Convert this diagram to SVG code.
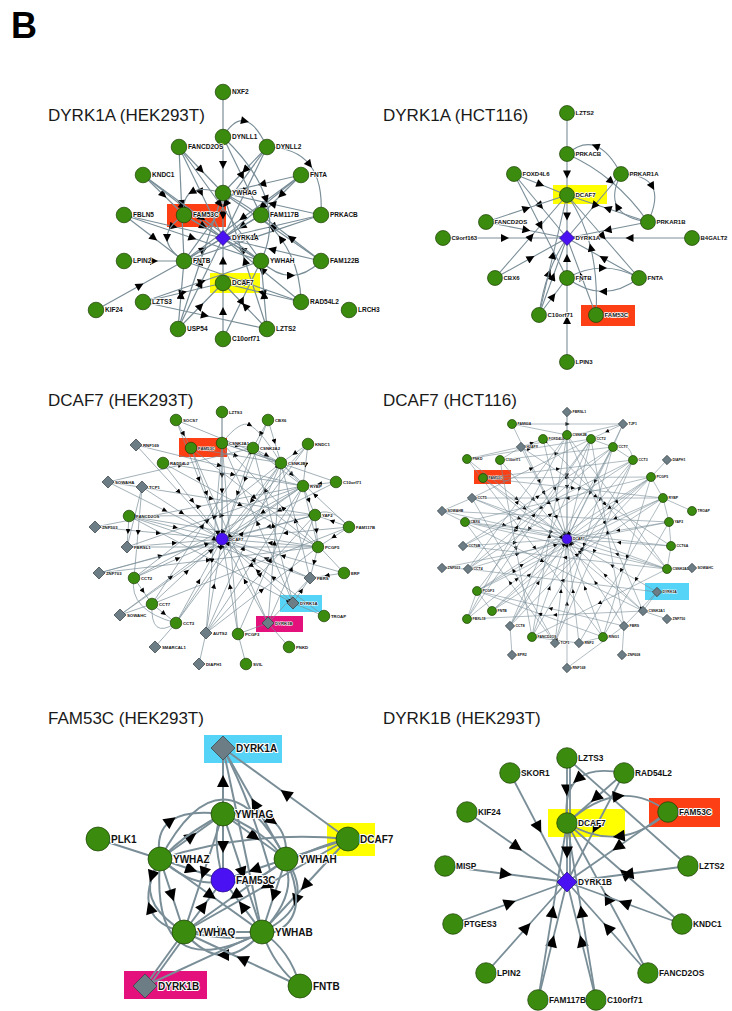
<svg xmlns="http://www.w3.org/2000/svg" xmlns:xlink="http://www.w3.org/1999/xlink" width="732" height="1011" viewBox="0 0 732 1011">
<style>
.t{font-family:"Liberation Sans",Arial,sans-serif;font-size:17px;fill:#1a1a1a}
.B{font-family:"Liberation Sans",Arial,sans-serif;font-size:36px;font-weight:bold;fill:#000}
.g{fill:#3a8b0e;stroke:#1d3f05;stroke-width:.7}
.v{fill:#4a12f2;stroke:#220a80;stroke-width:.7}
.d{fill:#6c7d86;stroke:#333d42;stroke-width:.7}
.l{font-family:"Liberation Sans",Arial,sans-serif;font-weight:bold;fill:#111;stroke:#fff;stroke-linejoin:round;paint-order:stroke}
.l1{font-size:6.5px;stroke-width:1.6}
.l2{font-size:6px;stroke-width:1.5}
.l3{font-size:4.3px;stroke-width:1}
.l4{font-size:3.5px;stroke-width:.8}
.l5{font-size:10px;stroke-width:2.2}
.l6{font-size:8.3px;stroke-width:2}
.e{fill:none;stroke:#7a8e98}
.e1{stroke-width:1.2;marker-mid:url(#a1)}
.e2{stroke-width:1.1;marker-mid:url(#a2)}
.e3{stroke-width:.7;marker-mid:url(#a3)}
.e4{stroke-width:.6;marker-mid:url(#a4)}
.e5{stroke-width:2;marker-mid:url(#a5)}
.e6{stroke-width:1.8;marker-mid:url(#a6)}
.hr{fill:#fc3f14}.hy{fill:#ffff00}.hb{fill:#55d4f7}.hm{fill:#e4107c}
</style>
<defs>
<marker id="a1" viewBox="0 0 10 10" refX="5" refY="5" markerWidth="9" markerHeight="8" markerUnits="userSpaceOnUse" orient="auto"><path d="M0,0L10,5L0,10z"/></marker>
<marker id="a2" viewBox="0 0 10 10" refX="5" refY="5" markerWidth="9" markerHeight="8" markerUnits="userSpaceOnUse" orient="auto"><path d="M0,0L10,5L0,10z"/></marker>
<marker id="a3" viewBox="0 0 10 10" refX="5" refY="5" markerWidth="5.5" markerHeight="5" markerUnits="userSpaceOnUse" orient="auto"><path d="M0,0L10,5L0,10z"/></marker>
<marker id="a4" viewBox="0 0 10 10" refX="5" refY="5" markerWidth="4.5" markerHeight="4" markerUnits="userSpaceOnUse" orient="auto"><path d="M0,0L10,5L0,10z"/></marker>
<marker id="a5" viewBox="0 0 10 10" refX="5" refY="5" markerWidth="13" markerHeight="12" markerUnits="userSpaceOnUse" orient="auto"><path d="M0,0L10,5L0,10z"/></marker>
<marker id="a6" viewBox="0 0 10 10" refX="5" refY="5" markerWidth="13" markerHeight="12" markerUnits="userSpaceOnUse" orient="auto"><path d="M0,0L10,5L0,10z"/></marker>
<path id="d1" d="M0,-7.5L7.5,0L0,7.5L-7.5,0Z"/>
<path id="d3" d="M0,-6L6,0L0,6L-6,0Z"/>
<path id="d4" d="M0,-4.7L4.7,0L0,4.7L-4.7,0Z"/>
<path id="d5" d="M0,-12L12,0L0,12L-12,0Z"/>
<path id="d6" d="M0,-10L10,0L0,10L-10,0Z"/>
</defs>
<rect width="732" height="1011" fill="#fff"/>
<text class="B" x="11" y="38">B</text>
<text class="t" x="48" y="121">DYRK1A (HEK293T)</text>
<text class="t" x="383" y="121">DYRK1A (HCT116)</text>
<text class="t" x="48" y="406">DCAF7 (HEK293T)</text>
<text class="t" x="383" y="406">DCAF7 (HCT116)</text>
<text class="t" x="48" y="724">FAM53C (HEK293T)</text>
<text class="t" x="383" y="724">DYRK1B (HEK293T)</text>

<!-- ===== Panel 1 ===== -->
<g id="p1-highlights">
<rect class="hr" x="167" y="204" width="59" height="23"/>
<rect class="hy" x="210" y="273" width="50" height="20"/>
</g>
<g id="p1-edges" class="e e1">
<line x1="223" y1="92" x2="223" y2="137"/>
<polyline points="223,137 223,165 223,193"/>
<polyline points="267,147 245,170 223,193"/>
<path d="M223,137 Q234,118.5 245,121 Q256,123.5 267,147"/>
<polyline points="179,147 201,192.5 223,238"/>
<polyline points="179,147 181.5,204 184,261"/>
<polyline points="143,175 163.5,195 184,215"/>
<polyline points="143,175 183,206.5 223,238"/>
<polyline points="301,175 262,184 223,193"/>
<polyline points="301,175 242.5,218 184,261"/>
<polyline points="301,175 262,206.5 223,238"/>
<polyline points="223,193 223,215.5 223,238"/>
<polyline points="124,215 173.5,226.5 223,238"/>
<polyline points="124,215 192.5,238 261,261"/>
<polyline points="184,215 203.5,226.5 223,238"/>
<polyline points="261,215 242,226.5 223,238"/>
<polyline points="321,215 272,226.5 223,238"/>
<polyline points="321,215 252.5,238 184,261"/>
<path d="M267,147 Q296,147.5 309.5,164.5 Q323,181.5 321,215"/>
<polyline points="124,261 154,261 184,261"/>
<polyline points="184,261 203.5,249.5 223,238"/>
<polyline points="261,261 242,249.5 223,238"/>
<polyline points="321,261 272,249.5 223,238"/>
<polyline points="321,261 272,227 223,193"/>
<polyline points="223,283 223,260.5 223,238"/>
<polyline points="143,302 183,292.5 223,283"/>
<polyline points="143,302 202,281.5 261,261"/>
<polyline points="301,302 262,270 223,238"/>
<polyline points="301,302 262,292.5 223,283"/>
<polyline points="301,302 242.5,281.5 184,261"/>
<polyline points="96,310 140,285.5 184,261"/>
<polyline points="178,329 200.5,283.5 223,238"/>
<polyline points="178,329 181,295 184,261"/>
<polyline points="178,329 200.5,261 223,193"/>
<polyline points="267,329 245,306 223,283"/>
<polyline points="267,329 245,261 223,193"/>
<polyline points="223,339 223,311 223,283"/>
<polyline points="223,339 242,300 261,261"/>
<polyline points="143,302 205,315.5 267,329"/>
<polyline points="261,261 222.5,238 184,215"/>
<polyline points="261,215 222.5,238 184,261"/>
<polyline points="179,147 220,204 261,261"/>
<polyline points="223,137 242,176 261,215"/>
<polyline points="267,147 225.5,204 184,261"/>
<path d="M184,215 Q167,226.5 167,238 Q167,249.5 184,261"/>
<path d="M223,193 Q201.5,186.5 191.75,192 Q182,197.5 184,215"/>
<path d="M261,261 Q276,275.5 291,275.5 Q306,275.5 321,261"/>
<path d="M223,137 Q256.5,168.5 266,199.5 Q275.5,230.5 261,261"/>
<polyline points="179,147 201,170 223,193"/>
<polyline points="267,147 245,192.5 223,238"/>
<polyline points="301,175 281,195 261,215"/>
<polyline points="321,215 272,204 223,193"/>
<polyline points="321,261 291,238 261,215"/>
<path d="M301,302 Q300.5,266 281,238.75 Q261.5,211.5 223,193"/>
<polyline points="267,329 264,295 261,261"/>
<polyline points="178,329 200.5,306 223,283"/>
<polyline points="143,175 202,218 261,261"/>
<polyline points="124,215 154,238 184,261"/>
</g>
<g id="p1-NXF2"><circle class="g" cx="223" cy="92" r="7.8"/><text class="l l1" x="232" y="94.3">NXF2</text></g>
<g id="p1-DYNLL1"><circle class="g" cx="223" cy="137" r="7.8"/><text class="l l1" x="232" y="139.3">DYNLL1</text></g>
<g id="p1-FANCD2OS"><circle class="g" cx="179" cy="147" r="7.8"/><text class="l l1" x="188" y="149.3">FANCD2OS</text></g>
<g id="p1-DYNLL2"><circle class="g" cx="267" cy="147" r="7.8"/><text class="l l1" x="276" y="149.3">DYNLL2</text></g>
<g id="p1-KNDC1"><circle class="g" cx="143" cy="175" r="7.8"/><text class="l l1" x="152" y="177.3">KNDC1</text></g>
<g id="p1-FNTA"><circle class="g" cx="301" cy="175" r="7.8"/><text class="l l1" x="310" y="177.3">FNTA</text></g>
<g id="p1-YWHAG"><circle class="g" cx="223" cy="193" r="7.8"/><text class="l l1" x="232" y="195.3">YWHAG</text></g>
<g id="p1-FBLN5"><circle class="g" cx="124" cy="215" r="7.8"/><text class="l l1" x="133" y="217.3">FBLN5</text></g>
<g id="p1-FAM53C"><circle class="g" cx="184" cy="215" r="7.8"/><text class="l l1" x="193" y="217.3">FAM53C</text></g>
<g id="p1-FAM117B"><circle class="g" cx="261" cy="215" r="7.8"/><text class="l l1" x="270" y="217.3">FAM117B</text></g>
<g id="p1-PRKACB"><circle class="g" cx="321" cy="215" r="7.8"/><text class="l l1" x="330" y="217.3">PRKACB</text></g>
<g id="p1-DYRK1A"><use href="#d1" x="223" y="238" class="v"/><text class="l l1" x="232" y="240.3">DYRK1A</text></g>
<g id="p1-LPIN2"><circle class="g" cx="124" cy="261" r="7.8"/><text class="l l1" x="133" y="263.3">LPIN2</text></g>
<g id="p1-FNTB"><circle class="g" cx="184" cy="261" r="7.8"/><text class="l l1" x="193" y="263.3">FNTB</text></g>
<g id="p1-YWHAH"><circle class="g" cx="261" cy="261" r="7.8"/><text class="l l1" x="270" y="263.3">YWHAH</text></g>
<g id="p1-FAM122B"><circle class="g" cx="321" cy="261" r="7.8"/><text class="l l1" x="330" y="263.3">FAM122B</text></g>
<g id="p1-DCAF7"><circle class="g" cx="223" cy="283" r="7.8"/><text class="l l1" x="232" y="285.3">DCAF7</text></g>
<g id="p1-LZTS3"><circle class="g" cx="143" cy="302" r="7.8"/><text class="l l1" x="152" y="304.3">LZTS3</text></g>
<g id="p1-RAD54L2"><circle class="g" cx="301" cy="302" r="7.8"/><text class="l l1" x="310" y="304.3">RAD54L2</text></g>
<g id="p1-KIF24"><circle class="g" cx="96" cy="310" r="7.8"/><text class="l l1" x="105" y="312.3">KIF24</text></g>
<g id="p1-LRCH3"><circle class="g" cx="349" cy="310" r="7.8"/><text class="l l1" x="358" y="312.3">LRCH3</text></g>
<g id="p1-USP54"><circle class="g" cx="178" cy="329" r="7.8"/><text class="l l1" x="187" y="331.3">USP54</text></g>
<g id="p1-LZTS2"><circle class="g" cx="267" cy="329" r="7.8"/><text class="l l1" x="276" y="331.3">LZTS2</text></g>
<g id="p1-C10orf71"><circle class="g" cx="223" cy="339" r="7.8"/><text class="l l1" x="232" y="341.3">C10orf71</text></g>

<!-- ===== Panel 2 ===== -->
<g id="p2-highlights">
<rect class="hy" x="553" y="185" width="54" height="19"/>
<rect class="hr" x="581" y="305" width="54" height="21"/>
</g>
<g id="p2-edges" class="e e2">
<line x1="567" y1="113" x2="567" y2="154"/>
<polyline points="567,154 567,174.5 567,195"/>
<path d="M621,174 Q609,151 595.5,146 Q582,141 567,154"/>
<path d="M567,154 Q591,164.5 611.25,181.5 Q631.5,198.5 648,222"/>
<polyline points="648,222 607.5,208.5 567,195"/>
<path d="M621,174 Q645.5,174.5 652.25,186.5 Q659,198.5 648,222"/>
<path d="M648,222 Q624,218.5 617.25,206.5 Q610.5,194.5 621,174"/>
<polyline points="621,174 594,206 567,238"/>
<polyline points="514,174 540.5,184.5 567,195"/>
<polyline points="514,174 540.5,206 567,238"/>
<polyline points="567,195 567,216.5 567,238"/>
<polyline points="486,222 526.5,208.5 567,195"/>
<polyline points="486,222 526.5,230 567,238"/>
<polyline points="443,238 505,238 567,238"/>
<polyline points="692,238 629.5,238 567,238"/>
<polyline points="648,222 607.5,230 567,238"/>
<polyline points="495,278 531,236.5 567,195"/>
<polyline points="495,278 531,258 567,238"/>
<polyline points="567,278 567,258 567,238"/>
<polyline points="639,278 603,258 567,238"/>
<path d="M639,278 Q621,291.5 603,291.5 Q585,291.5 567,278"/>
<path d="M567,278 Q585,268 603,268 Q621,268 639,278"/>
<path d="M539,315 Q542,292.5 549,273.25 Q556,254 567,238"/>
<polyline points="539,315 553,255 567,195"/>
<polyline points="539,315 553,296.5 567,278"/>
<polyline points="596,315 581.5,276.5 567,238"/>
<path d="M596,315 Q598,277.5 590.75,247.5 Q583.5,217.5 567,195"/>
<polyline points="567,362 567,320 567,278"/>
<polyline points="567,195 603,236.5 639,278"/>
<polyline points="514,174 540.5,226 567,278"/>
<polyline points="539,315 553,276.5 567,238"/>
</g>
<g id="p2-LZTS2"><circle class="g" cx="567" cy="113" r="7.5"/><text class="l l2" x="575.5" y="115">LZTS2</text></g>
<g id="p2-PRKACB"><circle class="g" cx="567" cy="154" r="7.5"/><text class="l l2" x="575.5" y="156">PRKACB</text></g>
<g id="p2-FOXD4L6"><circle class="g" cx="514" cy="174" r="7.5"/><text class="l l2" x="522.5" y="176">FOXD4L6</text></g>
<g id="p2-PRKAR1A"><circle class="g" cx="621" cy="174" r="7.5"/><text class="l l2" x="629.5" y="176">PRKAR1A</text></g>
<g id="p2-DCAF7"><circle class="g" cx="567" cy="195" r="7.5"/><text class="l l2" x="575.5" y="197">DCAF7</text></g>
<g id="p2-FANCD2OS"><circle class="g" cx="486" cy="222" r="7.5"/><text class="l l2" x="494.5" y="224">FANCD2OS</text></g>
<g id="p2-PRKAR1B"><circle class="g" cx="648" cy="222" r="7.5"/><text class="l l2" x="656.5" y="224">PRKAR1B</text></g>
<g id="p2-C9orf163"><circle class="g" cx="443" cy="238" r="7.5"/><text class="l l2" x="451.5" y="240">C9orf163</text></g>
<g id="p2-DYRK1A"><use href="#d1" x="567" y="238" class="v"/><text class="l l2" x="575.5" y="240">DYRK1A</text></g>
<g id="p2-B4GALT2"><circle class="g" cx="692" cy="238" r="7.5"/><text class="l l2" x="700.5" y="240">B4GALT2</text></g>
<g id="p2-CBX6"><circle class="g" cx="495" cy="278" r="7.5"/><text class="l l2" x="503.5" y="280">CBX6</text></g>
<g id="p2-FNTB"><circle class="g" cx="567" cy="278" r="7.5"/><text class="l l2" x="575.5" y="280">FNTB</text></g>
<g id="p2-FNTA"><circle class="g" cx="639" cy="278" r="7.5"/><text class="l l2" x="647.5" y="280">FNTA</text></g>
<g id="p2-C10orf71"><circle class="g" cx="539" cy="315" r="7.5"/><text class="l l2" x="547.5" y="317">C10orf71</text></g>
<g id="p2-FAM53C"><circle class="g" cx="596" cy="315" r="7.5"/><text class="l l2" x="604.5" y="317">FAM53C</text></g>
<g id="p2-LPIN3"><circle class="g" cx="567" cy="362" r="7.5"/><text class="l l2" x="575.5" y="364">LPIN3</text></g>

<!-- ===== Panel 3 ===== -->
<g id="p3-highlights">
<rect class="hr" x="179" y="438" width="48" height="19"/>
<rect class="hb" x="280" y="595" width="42" height="17"/>
<rect class="hm" x="256" y="616" width="47" height="16"/>
</g>
<g id="p3-edges" class="e e3">
<polyline points="176,420 199,479.5 222,539"/>
<polyline points="222,412 222,475.5 222,539"/>
<polyline points="191,448 206.5,493.5 222,539"/>
<polyline points="222,443 222,491 222,539"/>
<polyline points="136,445 179,492 222,539"/>
<polyline points="163,463 192.5,501 222,539"/>
<polyline points="108,482 165,510.5 222,539"/>
<polyline points="142,487 182,513 222,539"/>
<polyline points="129,516 175.5,527.5 222,539"/>
<polyline points="95,527 158.5,533 222,539"/>
<polyline points="127,547 174.5,543 222,539"/>
<polyline points="99,573 160.5,556 222,539"/>
<polyline points="134,578 178,558.5 222,539"/>
<polyline points="152,604 187,571.5 222,539"/>
<polyline points="120,615 171,577 222,539"/>
<polyline points="176,623 199,581 222,539"/>
<polyline points="206,633 214,586 222,539"/>
<polyline points="238,634 230,586.5 222,539"/>
<polyline points="268,623 245,581 222,539"/>
<polyline points="324,616 273,577.5 222,539"/>
<polyline points="293,603 257.5,571 222,539"/>
<polyline points="310,578 266,558.5 222,539"/>
<polyline points="344,573 283,556 222,539"/>
<polyline points="318,547 270,543 222,539"/>
<polyline points="349,527 285.5,533 222,539"/>
<polyline points="315,515 268.5,527 222,539"/>
<polyline points="336,482 279,510.5 222,539"/>
<polyline points="303,486 262.5,512.5 222,539"/>
<polyline points="281,463 251.5,501 222,539"/>
<polyline points="308,444 265,491.5 222,539"/>
<polyline points="253,448 237.5,493.5 222,539"/>
<polyline points="268,420 245,479.5 222,539"/>
<polyline points="222,443 237.5,445.5 253,448"/>
<polyline points="222,443 251.5,453 281,463"/>
<polyline points="253,448 267,455.5 281,463"/>
<polyline points="281,463 292,474.5 303,486"/>
<polyline points="253,448 278,467 303,486"/>
<polyline points="268,420 260.5,434 253,448"/>
<polyline points="268,420 274.5,441.5 281,463"/>
<polyline points="308,444 294.5,453.5 281,463"/>
<polyline points="308,444 305.5,465 303,486"/>
<polyline points="303,486 309,500.5 315,515"/>
<polyline points="303,486 310.5,516.5 318,547"/>
<polyline points="315,515 316.5,531 318,547"/>
<polyline points="318,547 314,562.5 310,578"/>
<polyline points="336,482 319.5,484 303,486"/>
<polyline points="349,527 332,521 315,515"/>
<polyline points="349,527 333.5,537 318,547"/>
<polyline points="344,573 327,575.5 310,578"/>
<line x1="293" y1="603" x2="324" y2="616"/>
<polyline points="293,603 301.5,590.5 310,578"/>
<line x1="268" y1="623" x2="289" y2="647"/>
<line x1="268" y1="623" x2="238" y2="634"/>
<polyline points="268,623 289,600.5 310,578"/>
<polyline points="268,623 291.5,569 315,515"/>
<line x1="238" y1="634" x2="246" y2="664"/>
<line x1="206" y1="633" x2="199" y2="664"/>
<polyline points="206,633 262,590 318,547"/>
<polyline points="206,633 254.5,559.5 303,486"/>
<polyline points="206,633 260.5,574 315,515"/>
<polyline points="206,633 243.5,548 281,463"/>
<polyline points="206,633 214,538 222,443"/>
<polyline points="134,578 143,591 152,604"/>
<polyline points="152,604 164,613.5 176,623"/>
<path d="M134,578 Q128,610 176,623"/>
<path d="M152,604 Q150,640 176,623"/>
<line x1="176" y1="623" x2="155" y2="647"/>
<line x1="152" y1="604" x2="120" y2="615"/>
<polyline points="142,487 134.5,517 127,547"/>
<polyline points="142,487 138,532.5 134,578"/>
<polyline points="129,516 128,531.5 127,547"/>
<polyline points="95,527 199,506.5 303,486"/>
<polyline points="129,516 222,515.5 315,515"/>
<polyline points="129,516 223.5,531.5 318,547"/>
<polyline points="163,463 240.5,505 318,547"/>
<polyline points="163,463 233,474.5 303,486"/>
<polyline points="191,448 236,455.5 281,463"/>
<polyline points="191,448 254.5,497.5 318,547"/>
<polyline points="176,420 183.5,434 191,448"/>
<line x1="176" y1="420" x2="281" y2="463"/>
<line x1="222" y1="412" x2="222" y2="443"/>
<path d="M222,443 Q240,420 250,425 Q262,432 281,463"/>
<polyline points="136,445 219.5,465.5 303,486"/>
<polyline points="108,482 180.5,465 253,448"/>
<polyline points="108,482 211.5,498.5 315,515"/>
<polyline points="127,547 215,516.5 303,486"/>
<polyline points="127,547 222.5,547 318,547"/>
<polyline points="99,573 208.5,560 318,547"/>
<polyline points="99,573 207,544 315,515"/>
<polyline points="134,578 218.5,532 303,486"/>
<polyline points="134,578 207.5,520.5 281,463"/>
<polyline points="152,604 202.5,526 253,448"/>
<polyline points="176,623 228.5,543 281,463"/>
<polyline points="176,623 242,533.5 308,444"/>
<polyline points="120,615 211.5,550.5 303,486"/>
<polyline points="238,634 230,538.5 222,443"/>
<polyline points="238,634 270.5,560 303,486"/>
<polyline points="293,603 257.5,523 222,443"/>
<polyline points="293,603 273,525.5 253,448"/>
<polyline points="293,603 211,559.5 129,516"/>
<polyline points="268,623 274.5,543 281,463"/>
<polyline points="268,623 229.5,535.5 191,448"/>
<polyline points="310,578 295.5,520.5 281,463"/>
<polyline points="310,578 219.5,547 129,516"/>
<polyline points="344,573 283,508 222,443"/>
<polyline points="336,482 279,462.5 222,443"/>
<polyline points="349,527 315,495 281,463"/>
<polyline points="349,527 250.5,565.5 152,604"/>
<path d="M349,527 Q330,505 315,515"/>
</g>
<g id="p3-SOCS7"><circle class="g" cx="176" cy="420" r="5.8"/><text class="l l3" x="183" y="421.5">SOCS7</text></g>
<g id="p3-LZTS3"><circle class="g" cx="222" cy="412" r="5.8"/><text class="l l3" x="229" y="413.5">LZTS3</text></g>
<g id="p3-FAM53C"><circle class="g" cx="191" cy="448" r="5.8"/><text class="l l3" x="198" y="449.5">FAM53C</text></g>
<g id="p3-CSNK2A1"><circle class="g" cx="222" cy="443" r="5.8"/><text class="l l3" x="229" y="444.5">CSNK2A1</text></g>
<g id="p3-RNF169"><use href="#d3" x="136" y="445" class="d"/><text class="l l3" x="143" y="446.5">RNF169</text></g>
<g id="p3-RAD54L2"><circle class="g" cx="163" cy="463" r="5.8"/><text class="l l3" x="170" y="464.5">RAD54L2</text></g>
<g id="p3-SOWAHA"><use href="#d3" x="108" y="482" class="d"/><text class="l l3" x="115" y="483.5">SOWAHA</text></g>
<g id="p3-TCP1"><use href="#d3" x="142" y="487" class="d"/><text class="l l3" x="149" y="488.5">TCP1</text></g>
<g id="p3-FANCD2OS"><circle class="g" cx="129" cy="516" r="5.8"/><text class="l l3" x="136" y="517.5">FANCD2OS</text></g>
<g id="p3-ZNF503"><use href="#d3" x="95" y="527" class="d"/><text class="l l3" x="102" y="528.5">ZNF503</text></g>
<g id="p3-FBRSL1"><use href="#d3" x="127" y="547" class="d"/><text class="l l3" x="134" y="548.5">FBRSL1</text></g>
<g id="p3-ZNF703"><use href="#d3" x="99" y="573" class="d"/><text class="l l3" x="106" y="574.5">ZNF703</text></g>
<g id="p3-CCT2"><circle class="g" cx="134" cy="578" r="5.8"/><text class="l l3" x="141" y="579.5">CCT2</text></g>
<g id="p3-CCT7"><circle class="g" cx="152" cy="604" r="5.8"/><text class="l l3" x="159" y="605.5">CCT7</text></g>
<g id="p3-SOWAHC"><use href="#d3" x="120" y="615" class="d"/><text class="l l3" x="127" y="616.5">SOWAHC</text></g>
<g id="p3-CCT3"><circle class="g" cx="176" cy="623" r="5.8"/><text class="l l3" x="183" y="624.5">CCT3</text></g>
<g id="p3-AUTS2"><use href="#d3" x="206" y="633" class="d"/><text class="l l3" x="213" y="634.5">AUTS2</text></g>
<g id="p3-SMARCAL1"><use href="#d3" x="155" y="647" class="d"/><text class="l l3" x="162" y="648.5">SMARCAL1</text></g>
<g id="p3-DIAPH1"><use href="#d3" x="199" y="664" class="d"/><text class="l l3" x="206" y="665.5">DIAPH1</text></g>
<g id="p3-SVIL"><circle class="g" cx="246" cy="664" r="5.8"/><text class="l l3" x="253" y="665.5">SVIL</text></g>
<g id="p3-PCGF3"><circle class="g" cx="238" cy="634" r="5.8"/><text class="l l3" x="245" y="635.5">PCGF3</text></g>
<g id="p3-PNKD"><circle class="g" cx="289" cy="647" r="5.8"/><text class="l l3" x="296" y="648.5">PNKD</text></g>
<g id="p3-DYRK1B"><use href="#d3" x="268" y="623" class="d"/><text class="l l3" x="275" y="624.5">DYRK1B</text></g>
<g id="p3-TROAP"><circle class="g" cx="324" cy="616" r="5.8"/><text class="l l3" x="331" y="617.5">TROAP</text></g>
<g id="p3-DYRK1A"><use href="#d3" x="293" y="603" class="d"/><text class="l l3" x="300" y="604.5">DYRK1A</text></g>
<g id="p3-FBRS"><use href="#d3" x="310" y="578" class="d"/><text class="l l3" x="317" y="579.5">FBRS</text></g>
<g id="p3-ERF"><circle class="g" cx="344" cy="573" r="5.8"/><text class="l l3" x="351" y="574.5">ERF</text></g>
<g id="p3-PCGF5"><circle class="g" cx="318" cy="547" r="5.8"/><text class="l l3" x="325" y="548.5">PCGF5</text></g>
<g id="p3-FAM117B"><circle class="g" cx="349" cy="527" r="5.8"/><text class="l l3" x="356" y="528.5">FAM117B</text></g>
<g id="p3-YAF2"><circle class="g" cx="315" cy="515" r="5.8"/><text class="l l3" x="322" y="516.5">YAF2</text></g>
<g id="p3-C10orf71"><circle class="g" cx="336" cy="482" r="5.8"/><text class="l l3" x="343" y="483.5">C10orf71</text></g>
<g id="p3-RYBP"><circle class="g" cx="303" cy="486" r="5.8"/><text class="l l3" x="310" y="487.5">RYBP</text></g>
<g id="p3-CSNK2B"><circle class="g" cx="281" cy="463" r="5.8"/><text class="l l3" x="288" y="464.5">CSNK2B</text></g>
<g id="p3-KNDC1"><circle class="g" cx="308" cy="444" r="5.8"/><text class="l l3" x="315" y="445.5">KNDC1</text></g>
<g id="p3-CSNK2A2"><circle class="g" cx="253" cy="448" r="5.8"/><text class="l l3" x="260" y="449.5">CSNK2A2</text></g>
<g id="p3-CBX6"><circle class="g" cx="268" cy="420" r="5.8"/><text class="l l3" x="275" y="421.5">CBX6</text></g>
<g id="p3-DCAF7"><circle class="v" cx="222" cy="539" r="6"/><text class="l l3" x="229" y="540.5">DCAF7</text></g>

<!-- ===== Panel 4 ===== -->
<g id="p4-highlights">
<rect class="hr" x="474" y="470" width="37" height="14"/>
<rect class="hb" x="645" y="583" width="44" height="17"/>
</g>
<g id="p4-edges" class="e e4">
<polyline points="567,412 567,475.5 567,539"/>
<polyline points="623,424 595,481.5 567,539"/>
<polyline points="512,424 539.5,481.5 567,539"/>
<polyline points="521,447 544,493 567,539"/>
<polyline points="543,439 555,489 567,539"/>
<polyline points="567,435 567,487 567,539"/>
<polyline points="591,439 579,489 567,539"/>
<polyline points="613,447 590,493 567,539"/>
<polyline points="633,460 600,499.5 567,539"/>
<polyline points="467,459 517,499 567,539"/>
<polyline points="500,460 533.5,499.5 567,539"/>
<polyline points="483,478 525,508.5 567,539"/>
<polyline points="651,477 609,508 567,539"/>
<polyline points="472,498 519.5,518.5 567,539"/>
<polyline points="663,498 615,518.5 567,539"/>
<polyline points="442,511 504.5,525 567,539"/>
<polyline points="465,522 516,530.5 567,539"/>
<polyline points="669,522 618,530.5 567,539"/>
<polyline points="463,546 515,542.5 567,539"/>
<polyline points="671,546 619,542.5 567,539"/>
<polyline points="468,569 517.5,554 567,539"/>
<polyline points="667,569 617,554 567,539"/>
<polyline points="477,591 522,565 567,539"/>
<polyline points="657,592 612,565.5 567,539"/>
<polyline points="492,611 529.5,575 567,539"/>
<polyline points="643,611 605,575 567,539"/>
<polyline points="467,619 517,579 567,539"/>
<polyline points="510,626 538.5,582.5 567,539"/>
<polyline points="624,626 595.5,582.5 567,539"/>
<polyline points="532,637 549.5,588 567,539"/>
<polyline points="603,637 585,588 567,539"/>
<polyline points="555,643 561,591 567,539"/>
<polyline points="579,643 573,591 567,539"/>
<polyline points="567,668 567,603.5 567,539"/>
<polyline points="483,478 558,469 633,460"/>
<polyline points="483,478 567,477.5 651,477"/>
<polyline points="483,478 573,488 663,498"/>
<polyline points="500,460 556.5,453.5 613,447"/>
<polyline points="500,460 516,548.5 532,637"/>
<polyline points="467,459 529,449 591,439"/>
<polyline points="467,459 535,548 603,637"/>
<line x1="512" y1="424" x2="567" y2="435"/>
<polyline points="512,424 567.5,424 623,424"/>
<polyline points="521,447 532,443 543,439"/>
<polyline points="521,447 596,496.5 671,546"/>
<polyline points="543,439 605,504 667,569"/>
<polyline points="567,435 605,523 643,611"/>
<polyline points="567,435 617,502 667,569"/>
<line x1="591" y1="439" x2="613" y2="447"/>
<line x1="613" y1="447" x2="633" y2="460"/>
<polyline points="591,439 529,529 467,619"/>
<polyline points="591,439 550.5,532.5 510,626"/>
<polyline points="613,447 540.5,508 468,569"/>
<polyline points="613,447 584,545 555,643"/>
<polyline points="633,460 594,551.5 555,643"/>
<polyline points="633,460 548,503 463,546"/>
<line x1="651" y1="477" x2="663" y2="498"/>
<line x1="651" y1="477" x2="667" y2="460"/>
<polyline points="651,477 627,557 603,637"/>
<polyline points="651,477 571.5,544 492,611"/>
<polyline points="651,477 564,534 477,591"/>
<line x1="663" y1="498" x2="669" y2="522"/>
<line x1="663" y1="498" x2="692" y2="511"/>
<polyline points="663,498 621,570.5 579,643"/>
<polyline points="663,498 567.5,498 472,498"/>
<polyline points="663,498 570,544.5 477,591"/>
<polyline points="669,522 555.5,516.5 442,511"/>
<polyline points="669,522 636,579.5 603,637"/>
<line x1="669" y1="522" x2="671" y2="546"/>
<polyline points="671,546 568,534 465,522"/>
<line x1="671" y1="546" x2="667" y2="569"/>
<polyline points="667,569 565,557.5 463,546"/>
<polyline points="667,569 599.5,603 532,637"/>
<line x1="667" y1="569" x2="692" y2="568"/>
<polyline points="667,569 566,545.5 465,522"/>
<polyline points="657,592 640.5,609 624,626"/>
<line x1="657" y1="592" x2="643" y2="611"/>
<polyline points="657,592 562.5,580.5 468,569"/>
<line x1="643" y1="611" x2="667" y2="619"/>
<polyline points="643,611 555,615 467,619"/>
<polyline points="643,611 563,544.5 483,478"/>
<line x1="624" y1="626" x2="622" y2="655"/>
<polyline points="624,626 607.5,532.5 591,439"/>
<polyline points="624,626 550.5,608.5 477,591"/>
<line x1="603" y1="637" x2="579" y2="643"/>
<polyline points="603,637 540,614 477,591"/>
<polyline points="579,643 555.5,640 532,637"/>
<polyline points="555,643 513.5,570.5 472,498"/>
<polyline points="555,643 510,582.5 465,522"/>
<polyline points="532,637 582.5,548.5 633,460"/>
<polyline points="532,637 549.5,536 567,435"/>
<line x1="510" y1="626" x2="512" y2="655"/>
<polyline points="510,626 561.5,536.5 613,447"/>
<polyline points="510,626 580.5,551.5 651,477"/>
<line x1="492" y1="611" x2="477" y2="591"/>
<polyline points="492,611 577.5,554.5 663,498"/>
<line x1="467" y1="619" x2="477" y2="591"/>
<polyline points="467,619 517,527 567,435"/>
<polyline points="477,591 534,515 591,439"/>
<polyline points="468,569 517.5,502 567,435"/>
<polyline points="468,569 550.5,514.5 633,460"/>
<line x1="442" y1="568" x2="468" y2="569"/>
<polyline points="442,568 555.5,545 669,522"/>
<polyline points="463,546 538,496.5 613,447"/>
<polyline points="465,522 558,499.5 651,477"/>
<line x1="442" y1="511" x2="472" y2="498"/>
<polyline points="442,511 542.5,561 643,611"/>
<polyline points="472,498 531.5,468.5 591,439"/>
<polyline points="472,498 569.5,533.5 667,569"/>
<line x1="567" y1="412" x2="567" y2="435"/>
<line x1="623" y1="424" x2="613" y2="447"/>
<polyline points="623,424 607,431.5 591,439"/>
<polyline points="623,424 545,441.5 467,459"/>
<line x1="521" y1="447" x2="500" y2="460"/>
<line x1="567" y1="668" x2="624" y2="626"/>
<path d="M613,447 Q630,440 633,460"/>
</g>
<g id="p4-FBRSL1"><use href="#d4" x="567" y="412" class="d"/><text class="l l4" x="572.5" y="413.2">FBRSL1</text></g>
<g id="p4-TJP1"><use href="#d4" x="623" y="424" class="d"/><text class="l l4" x="628.5" y="425.2">TJP1</text></g>
<g id="p4-FAM60A"><circle class="g" cx="512" cy="424" r="4.5"/><text class="l l4" x="517.5" y="425.2">FAM60A</text></g>
<g id="p4-H2AFX"><use href="#d4" x="521" y="447" class="d"/><text class="l l4" x="526.5" y="448.2">H2AFX</text></g>
<g id="p4-FOXD4L6"><circle class="g" cx="543" cy="439" r="4.5"/><text class="l l4" x="548.5" y="440.2">FOXD4L6</text></g>
<g id="p4-CSNK2B"><circle class="g" cx="567" cy="435" r="4.5"/><text class="l l4" x="572.5" y="436.2">CSNK2B</text></g>
<g id="p4-CCT2"><circle class="g" cx="591" cy="439" r="4.5"/><text class="l l4" x="596.5" y="440.2">CCT2</text></g>
<g id="p4-CCT7"><circle class="g" cx="613" cy="447" r="4.5"/><text class="l l4" x="618.5" y="448.2">CCT7</text></g>
<g id="p4-CCT3"><circle class="g" cx="633" cy="460" r="4.5"/><text class="l l4" x="638.5" y="461.2">CCT3</text></g>
<g id="p4-DIAPH1"><use href="#d4" x="667" y="460" class="d"/><text class="l l4" x="672.5" y="461.2">DIAPH1</text></g>
<g id="p4-PNKD"><circle class="g" cx="467" cy="459" r="4.5"/><text class="l l4" x="472.5" y="460.2">PNKD</text></g>
<g id="p4-C10orf71"><circle class="g" cx="500" cy="460" r="4.5"/><text class="l l4" x="505.5" y="461.2">C10orf71</text></g>
<g id="p4-FAM53C"><circle class="g" cx="483" cy="478" r="4.5"/><text class="l l4" x="488.5" y="479.2">FAM53C</text></g>
<g id="p4-PCGF5"><circle class="g" cx="651" cy="477" r="4.5"/><text class="l l4" x="656.5" y="478.2">PCGF5</text></g>
<g id="p4-CCT5"><use href="#d4" x="472" y="498" class="d"/><text class="l l4" x="477.5" y="499.2">CCT5</text></g>
<g id="p4-RYBP"><circle class="g" cx="663" cy="498" r="4.5"/><text class="l l4" x="668.5" y="499.2">RYBP</text></g>
<g id="p4-SOWAHB"><use href="#d4" x="442" y="511" class="d"/><text class="l l4" x="447.5" y="512.2">SOWAHB</text></g>
<g id="p4-TROAP"><circle class="g" cx="692" cy="511" r="4.5"/><text class="l l4" x="697.5" y="512.2">TROAP</text></g>
<g id="p4-CBX6"><circle class="g" cx="465" cy="522" r="4.5"/><text class="l l4" x="470.5" y="523.2">CBX6</text></g>
<g id="p4-YAF2"><circle class="g" cx="669" cy="522" r="4.5"/><text class="l l4" x="674.5" y="523.2">YAF2</text></g>
<g id="p4-CCT6B"><use href="#d4" x="463" y="546" class="d"/><text class="l l4" x="468.5" y="547.2">CCT6B</text></g>
<g id="p4-CCT6A"><circle class="g" cx="671" cy="546" r="4.5"/><text class="l l4" x="676.5" y="547.2">CCT6A</text></g>
<g id="p4-ZNF503"><use href="#d4" x="442" y="568" class="d"/><text class="l l4" x="447.5" y="569.2">ZNF503</text></g>
<g id="p4-CCT4"><use href="#d4" x="468" y="569" class="d"/><text class="l l4" x="473.5" y="570.2">CCT4</text></g>
<g id="p4-CSNK2A2"><circle class="g" cx="667" cy="569" r="4.5"/><text class="l l4" x="672.5" y="570.2">CSNK2A2</text></g>
<g id="p4-SOWAHC"><use href="#d4" x="692" y="568" class="d"/><text class="l l4" x="697.5" y="569.2">SOWAHC</text></g>
<g id="p4-PCGF3"><circle class="g" cx="477" cy="591" r="4.5"/><text class="l l4" x="482.5" y="592.2">PCGF3</text></g>
<g id="p4-DYRK1A"><use href="#d4" x="657" y="592" class="d"/><text class="l l4" x="662.5" y="593.2">DYRK1A</text></g>
<g id="p4-FNTB"><circle class="g" cx="492" cy="611" r="4.5"/><text class="l l4" x="497.5" y="612.2">FNTB</text></g>
<g id="p4-CSNK2A1"><use href="#d4" x="643" y="611" class="d"/><text class="l l4" x="648.5" y="612.2">CSNK2A1</text></g>
<g id="p4-FBXL19"><circle class="g" cx="467" cy="619" r="4.5"/><text class="l l4" x="472.5" y="620.2">FBXL19</text></g>
<g id="p4-ZNF750"><use href="#d4" x="667" y="619" class="d"/><text class="l l4" x="672.5" y="620.2">ZNF750</text></g>
<g id="p4-CCT8"><use href="#d4" x="510" y="626" class="d"/><text class="l l4" x="515.5" y="627.2">CCT8</text></g>
<g id="p4-FBRS"><use href="#d4" x="624" y="626" class="d"/><text class="l l4" x="629.5" y="627.2">FBRS</text></g>
<g id="p4-FANCD2OS"><circle class="g" cx="532" cy="637" r="4.5"/><text class="l l4" x="537.5" y="638.2">FANCD2OS</text></g>
<g id="p4-RING1"><circle class="g" cx="603" cy="637" r="4.5"/><text class="l l4" x="608.5" y="638.2">RING1</text></g>
<g id="p4-TCP1"><use href="#d4" x="555" y="643" class="d"/><text class="l l4" x="560.5" y="644.2">TCP1</text></g>
<g id="p4-RNF2"><use href="#d4" x="579" y="643" class="d"/><text class="l l4" x="584.5" y="644.2">RNF2</text></g>
<g id="p4-EPR2"><use href="#d4" x="512" y="655" class="d"/><text class="l l4" x="517.5" y="656.2">EPR2</text></g>
<g id="p4-ZNF608"><use href="#d4" x="622" y="655" class="d"/><text class="l l4" x="627.5" y="656.2">ZNF608</text></g>
<g id="p4-RNF169"><use href="#d4" x="567" y="668" class="d"/><text class="l l4" x="572.5" y="669.2">RNF169</text></g>
<g id="p4-DCAF7"><circle class="v" cx="567" cy="539" r="4.8"/><text class="l l4" x="573" y="540.2">DCAF7</text></g>

<!-- ===== Panel 5 ===== -->
<g id="p5-highlights">
<rect class="hb" x="204" y="735" width="78" height="28"/>
<rect class="hy" x="327" y="823" width="48" height="33"/>
<rect class="hm" x="124" y="971" width="83" height="28"/>
</g>
<g id="p5-edges" class="e e5">
<polyline points="223,814 223,781 223,748"/>
<polyline points="348,839 285.5,793.5 223,748"/>
<polyline points="286,859 254.5,803.5 223,748"/>
<line x1="223" y1="748" x2="262" y2="932"/>
<path d="M223,748 Q250,800 270,870"/>
<line x1="98" y1="839" x2="160" y2="859"/>
<line x1="348" y1="839" x2="286" y2="859"/>
<path d="M348,839 Q320,845 286,862"/>
<path d="M348,839 Q250,830 160,859"/>
<polyline points="348,839 266,885.5 184,932"/>
<polyline points="348,839 305,885.5 262,932"/>
<polyline points="223,814 223,847 223,880"/>
<polyline points="160,859 191.5,869.5 223,880"/>
<polyline points="286,859 254.5,869.5 223,880"/>
<polyline points="184,932 203.5,906 223,880"/>
<polyline points="262,932 242.5,906 223,880"/>
<path d="M223,880 Q196,890 160,859"/>
<path d="M223,880 Q250,890 286,859"/>
<path d="M223,880 Q210,830 223,814"/>
<polyline points="160,859 191.5,836.5 223,814"/>
<polyline points="223,814 254.5,836.5 286,859"/>
<polyline points="160,859 172,895.5 184,932"/>
<polyline points="286,859 274,895.5 262,932"/>
<polyline points="184,932 223,932 262,932"/>
<polyline points="160,859 211,895.5 262,932"/>
<polyline points="223,814 203.5,873 184,932"/>
<polyline points="223,814 242.5,873 262,932"/>
<polyline points="286,859 235,895.5 184,932"/>
<path d="M160,859 Q155,832 170.75,820.75 Q186.5,809.5 223,814"/>
<path d="M184,932 Q156,926 150,907.75 Q144,889.5 160,859"/>
<path d="M262,932 Q242.5,955 223,955 Q203.5,955 184,932"/>
<path d="M286,859 Q302,882 296,900.25 Q290,918.5 262,932"/>
<path d="M223,814 Q256.5,809.5 272.25,820.75 Q288,832 286,859"/>
<path d="M223,814 Q161.5,847 151.75,876.5 Q142,906 184,932"/>
<path d="M286,859 Q330,960 184,932"/>
<path d="M160,859 Q150,990 262,932"/>
<path d="M160,859 Q223,740 286,859"/>
<path d="M223,814 Q330,860 262,932"/>
<line x1="145" y1="986" x2="184" y2="932"/>
<line x1="149" y1="986" x2="188" y2="932"/>
<line x1="145" y1="986" x2="262" y2="932"/>
<path d="M300,986 Q290,950 262,932"/>
<path d="M300,986 Q275,968 262,932"/>
<polyline points="300,986 242,959 184,932"/>
</g>
<g id="p5-DYRK1A"><use href="#d5" x="223" y="748" class="d"/><text class="l l5" x="236" y="751.5">DYRK1A</text></g>
<g id="p5-YWHAG"><circle class="g" cx="223" cy="814" r="12"/><text class="l l5" x="235" y="817.5">YWHAG</text></g>
<g id="p5-PLK1"><circle class="g" cx="98" cy="839" r="12"/><text class="l l5" x="111" y="842.5">PLK1</text></g>
<g id="p5-DCAF7"><circle class="g" cx="348" cy="839" r="12"/><text class="l l5" x="360" y="842.5">DCAF7</text></g>
<g id="p5-YWHAZ"><circle class="g" cx="160" cy="859" r="12"/><text class="l l5" x="173" y="862.5">YWHAZ</text></g>
<g id="p5-YWHAH"><circle class="g" cx="286" cy="859" r="12"/><text class="l l5" x="299" y="862.5">YWHAH</text></g>
<g id="p5-YWHAQ"><circle class="g" cx="184" cy="932" r="12"/><text class="l l5" x="197" y="935.5">YWHAQ</text></g>
<g id="p5-YWHAB"><circle class="g" cx="262" cy="932" r="12"/><text class="l l5" x="275" y="935.5">YWHAB</text></g>
<g id="p5-DYRK1B"><use href="#d5" x="145" y="986" class="d"/><text class="l l5" x="158" y="989.5">DYRK1B</text></g>
<g id="p5-FNTB"><circle class="g" cx="300" cy="986" r="12"/><text class="l l5" x="313" y="989.5">FNTB</text></g>
<g id="p5-FAM53C"><circle class="v" cx="223" cy="880" r="12"/><text class="l l5" x="236" y="883.5">FAM53C</text></g>

<!-- ===== Panel 6 ===== -->
<g id="p6-highlights">
<rect class="hr" x="649" y="798" width="71" height="29"/>
<rect class="hy" x="548" y="809" width="77" height="28"/>
</g>
<g id="p6-edges" class="e e6">
<polyline points="567,758 567,790.5 567,823"/>
<line x1="570" y1="758" x2="570" y2="882"/>
<line x1="567" y1="758" x2="688" y2="866"/>
<polyline points="510,773 538.5,827.5 567,882"/>
<polyline points="467,812 517,847 567,882"/>
<polyline points="445,866 506,874 567,882"/>
<polyline points="453,924 510,903 567,882"/>
<polyline points="486,973 526.5,927.5 567,882"/>
<polyline points="538,1000 552.5,941 567,882"/>
<polyline points="538,1000 552.5,911.5 567,823"/>
<polyline points="596,1000 581.5,941 567,882"/>
<polyline points="596,1000 581.5,911.5 567,823"/>
<polyline points="648,973 607.5,927.5 567,882"/>
<polyline points="648,973 607.5,898 567,823"/>
<polyline points="682,924 624.5,903 567,882"/>
<polyline points="682,924 624.5,873.5 567,823"/>
<polyline points="688,866 627.5,874 567,882"/>
<path d="M624,773 Q592,766.5 577.75,779 Q563.5,791.5 567,823"/>
<polyline points="624,773 595.5,798 567,823"/>
<polyline points="624,773 595.5,827.5 567,882"/>
<path d="M567,823 Q593.5,799 618.75,796.25 Q644,793.5 668,812"/>
<path d="M668,812 Q644,833.5 618.75,836.25 Q593.5,839 567,823"/>
<polyline points="668,812 617.5,847 567,882"/>
<polyline points="567,823 567,852.5 567,882"/>
</g>
<g id="p6-LZTS3"><circle class="g" cx="567" cy="758" r="10.3"/><text class="l l6" x="578" y="761">LZTS3</text></g>
<g id="p6-SKOR1"><circle class="g" cx="510" cy="773" r="10.3"/><text class="l l6" x="521" y="776">SKOR1</text></g>
<g id="p6-RAD54L2"><circle class="g" cx="624" cy="773" r="10.3"/><text class="l l6" x="635" y="776">RAD54L2</text></g>
<g id="p6-KIF24"><circle class="g" cx="467" cy="812" r="10.3"/><text class="l l6" x="478" y="815">KIF24</text></g>
<g id="p6-FAM53C"><circle class="g" cx="668" cy="812" r="10.3"/><text class="l l6" x="679" y="815">FAM53C</text></g>
<g id="p6-DCAF7"><circle class="g" cx="567" cy="823" r="10.3"/><text class="l l6" x="578" y="826">DCAF7</text></g>
<g id="p6-MISP"><circle class="g" cx="445" cy="866" r="10.3"/><text class="l l6" x="456" y="869">MISP</text></g>
<g id="p6-LZTS2"><circle class="g" cx="688" cy="866" r="10.3"/><text class="l l6" x="699" y="869">LZTS2</text></g>
<g id="p6-DYRK1B"><use href="#d6" x="567" y="882" class="v"/><text class="l l6" x="578" y="885">DYRK1B</text></g>
<g id="p6-PTGES3"><circle class="g" cx="453" cy="924" r="10.3"/><text class="l l6" x="464" y="927">PTGES3</text></g>
<g id="p6-KNDC1"><circle class="g" cx="682" cy="924" r="10.3"/><text class="l l6" x="693" y="927">KNDC1</text></g>
<g id="p6-LPIN2"><circle class="g" cx="486" cy="973" r="10.3"/><text class="l l6" x="497" y="976">LPIN2</text></g>
<g id="p6-FANCD2OS"><circle class="g" cx="648" cy="973" r="10.3"/><text class="l l6" x="659" y="976">FANCD2OS</text></g>
<g id="p6-FAM117B"><circle class="g" cx="538" cy="1000" r="10.3"/><text class="l l6" x="549" y="1003">FAM117B</text></g>
<g id="p6-C10orf71"><circle class="g" cx="596" cy="1000" r="10.3"/><text class="l l6" x="607" y="1003">C10orf71</text></g>
</svg>
